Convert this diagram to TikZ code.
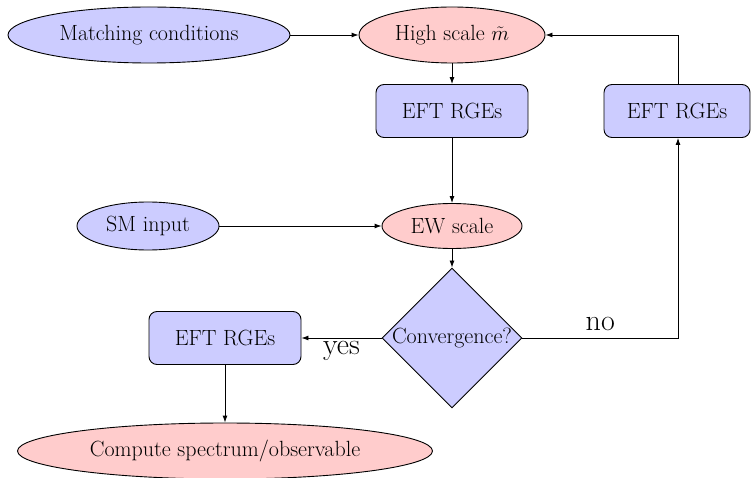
\documentclass[tikz,border=0pt]{standalone}
\usepackage{fontspec}
\usetikzlibrary{shapes.geometric,arrows.meta}
\begin{document}
\begin{tikzpicture}[x=1pt,y=-1pt,
  every node/.style={font=\fontsize{22}{26}\selectfont, inner sep=0pt},
  bluefill/.style={fill=blue!20, draw=black, line width=0.9pt},
  redfill/.style={fill=red!20, draw=black, line width=0.9pt},
  ell/.style={ellipse},
  rgebox/.style={bluefill, rectangle, rounded corners=8pt, minimum width=152pt, minimum height=53pt},
  conn/.style={line width=0.9pt, -{Latex[length=7pt,width=5pt]}},
  lab/.style={font=\fontsize{30}{34}\selectfont}
]
\useasboundingbox (0,0) rectangle (751,478);

\node[bluefill, ell, minimum width=282pt, minimum height=56pt] (mc) at (149,35) {Matching conditions};
\node[redfill, ell, minimum width=186pt, minimum height=56pt] (hs) at (452,35) {High scale $\tilde m$};
\node[rgebox] (r1) at (452,111) {EFT RGEs};
\node[rgebox, minimum width=146pt] (r2) at (677,111) {EFT RGEs};
\node[bluefill, ell, minimum width=142pt, minimum height=48pt] (sm) at (148,226) {SM input};
\node[redfill, ell, minimum width=140pt, minimum height=45pt] (ew) at (452,226) {EW scale};
\node[bluefill, diamond, minimum width=140pt, minimum height=140pt] (conv) at (452,338) {Convergence?};
\node[rgebox] (r3) at (225,338) {EFT RGEs};
\node[redfill, ell, minimum width=415pt, minimum height=56pt] (comp) at (225,451) {Compute spectrum/observable};

\coordinate (c1) at (678,338);
\coordinate (c2) at (678,35);

\draw[conn] (mc) -- (hs);
\draw[conn] (hs) -- (r1);
\draw[conn] (r1) -- (ew);
\draw[conn] (sm) -- (ew);
\draw[conn] (ew) -- (conv);
\draw[conn] (conv) -- node[lab, midway, below=3pt] {yes} (r3);
\draw[conn] (r3) -- (comp);
\draw[conn] (conv.east) -- node[lab, midway, above=7pt] {no} (c1) -- (c1 |- r2.south);
\draw[conn] (r2.north -| c2) -- (c2) -- (hs.east);
\end{tikzpicture}
\end{document}
